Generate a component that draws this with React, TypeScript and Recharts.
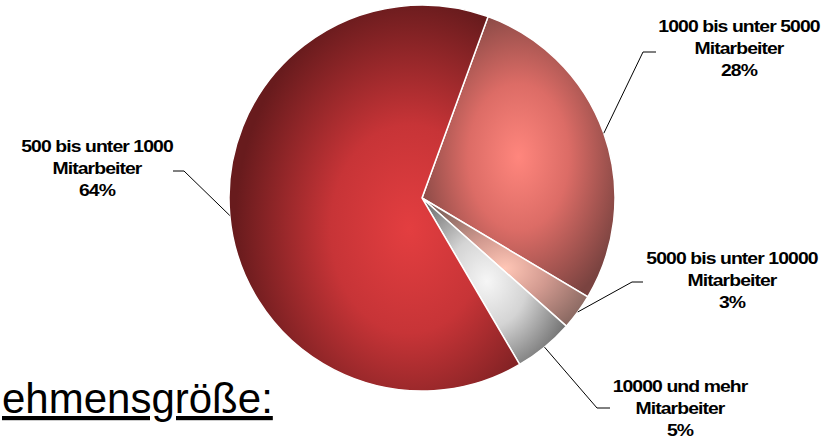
import React from "react";
import { PieChart, Pie, Cell } from "recharts";

// Categories (clockwise from the top boundary)
const categories = [
  "1000 bis unter 5000",
  "5000 bis unter 10000",
  "10000 und mehr",
  "500 bis unter 1000",
];
const subLabel = "Mitarbeiter";
const shares = [28, 3, 5, 64];
const titleText = "ehmensgröße:";

const data = categories.map((name, i) => ({ name, value: shares[i] }));

// gradient styling per slice: [center, mid, edge]
const sliceColors = [
  ["#ff867d", "#dc6c66", "#7a4340"],
  ["#ffc6b6", "#d29a90", "#86665f"],
  ["#f6f6f6", "#d4d4d4", "#6e6e6e"],
  ["#e33e40", "#c73437", "#681b1d"],
];
const gradientCenters = [
  { cx: "50%", cy: "50%", r: "58%" },
  { cx: "50%", cy: "55%", r: "58%" },
  { cx: "45%", cy: "50%", r: "62%" },
  { cx: "62%", cy: "58%", r: "60%" },
];

// label layout: text center x, first baseline y, elbow point, end of horizontal leader
const labelLayout = [
  { tx: 739, ty: 32, ex: 643, ey: 52, hx: 656 },
  { tx: 732, ty: 264, ex: 632, ey: 282, hx: 643 },
  { tx: 680, ty: 392, ex: 597, ey: 408, hx: 610 },
  { tx: 97, ty: 152, ex: 184, ey: 171, hx: 173 },
];

const RAD = Math.PI / 180;
const FONT = '"Liberation Sans", Arial, Helvetica, sans-serif';
const STRETCH = 1.14;

const renderLabel = (props: any) => {
  const { cx, cy, midAngle, outerRadius, index, value, name } = props;
  const sx = cx + outerRadius * Math.cos(-midAngle * RAD);
  const sy = cy + outerRadius * Math.sin(-midAngle * RAD);
  const L = labelLayout[index];
  return (
    <g key={`lbl-${index}`}>
      <polyline
        points={`${sx},${sy} ${L.ex},${L.ey} ${L.hx},${L.ey}`}
        fill="none"
        stroke="#000"
        strokeWidth={1}
      />
      <g transform={`translate(${L.tx},0) scale(${STRETCH},1)`}>
        <text
          x={0}
          y={L.ty}
          textAnchor="middle"
          fontFamily={FONT}
          fontWeight="bold"
          fontSize={17}
          letterSpacing={-0.8}
          fill="#000"
        >
          <tspan x={0} y={L.ty}>{name}</tspan>
          <tspan x={0} y={L.ty + 22.5}>{subLabel}</tspan>
          <tspan x={0} y={L.ty + 44.5}>{`${value}%`}</tspan>
        </text>
      </g>
    </g>
  );
};

export default function App() {
  return (
    <div style={{ position: "absolute", left: 0, top: 0, width: 822, height: 439, background: "#fff" }}>
      <PieChart width={822} height={439} margin={{ top: 0, right: 0, bottom: 0, left: 0 }}>
        <defs>
          {sliceColors.map((c, i) => (
            <radialGradient key={i} id={`slice-grad-${i}`} cx={gradientCenters[i].cx} cy={gradientCenters[i].cy} r={gradientCenters[i].r}>
              <stop offset="0%" stopColor={c[0]} />
              <stop offset="45%" stopColor={c[1]} />
              <stop offset="100%" stopColor={c[2]} />
            </radialGradient>
          ))}
        </defs>
        <Pie
          data={data}
          dataKey="value"
          nameKey="name"
          cx={422}
          cy={198}
          outerRadius={193}
          innerRadius={0}
          startAngle={70}
          endAngle={-290}
          stroke="#ffffff"
          strokeWidth={1.5}
          label={renderLabel}
          labelLine={false}
          isAnimationActive={false}
        >
          {data.map((d, i) => (
            <Cell key={d.name} fill={`url(#slice-grad-${i})`} />
          ))}
        </Pie>
        <text
          x={2}
          y={413}
          fontFamily={FONT}
          fontSize={42}
          fill="#000"
          textDecoration="underline"
        >
          {titleText}
        </text>
      </PieChart>
    </div>
  );
}
